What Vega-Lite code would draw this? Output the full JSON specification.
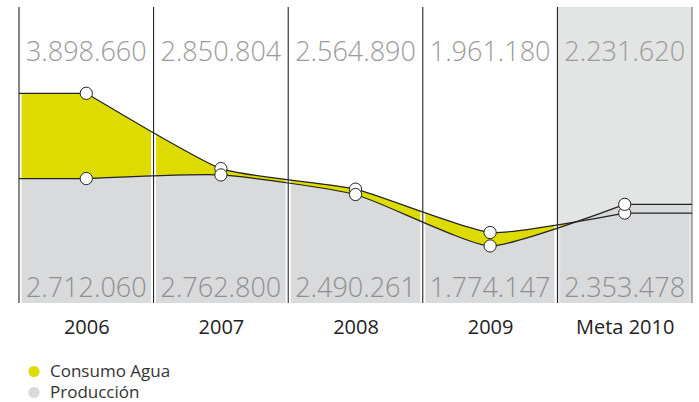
{
  "$schema": "https://vega.github.io/schema/vega-lite/v6.json",
  "width": 673,
  "height": 296,
  "autosize": {"type": "none"},
  "padding": {"left": 19, "top": 7, "right": 7, "bottom": 99},
  "background": "white",
  "config": {
    "view": {"stroke": null},
    "locale": {"number": {"decimal": ",", "thousands": ".", "grouping": [3], "currency": ["", " €"]}}
  },
  "data": {"values": [
    {"anio": 2006, "serie": "Consumo Agua", "valor": 3898660},
    {"anio": 2007, "serie": "Consumo Agua", "valor": 2850804},
    {"anio": 2008, "serie": "Consumo Agua", "valor": 2564890},
    {"anio": 2009, "serie": "Consumo Agua", "valor": 1961180},
    {"anio": 2010, "serie": "Consumo Agua", "valor": 2231620},
    {"anio": 2006, "serie": "Producción", "valor": 2712060},
    {"anio": 2007, "serie": "Producción", "valor": 2762800},
    {"anio": 2008, "serie": "Producción", "valor": 2490261},
    {"anio": 2009, "serie": "Producción", "valor": 1774147},
    {"anio": 2010, "serie": "Producción", "valor": 2353478}
  ]},
  "encoding": {
    "x": {"field": "anio", "type": "quantitative",
      "scale": {"domain": [2005.5, 2010.5], "nice": false, "zero": false},
      "axis": {"values": [2006, 2007, 2008, 2009, 2010],
        "labelExpr": "datum.value === 2010 ? 'Meta 2010' : '' + datum.value",
        "grid": false, "ticks": false, "tickSize": 0, "domain": false, "title": null,
        "labelFont": "Open Sans", "labelFontSize": 20, "labelColor": "#222222",
        "labelPadding": 30, "labelBaseline": "alphabetic", "labelFlush": false, "labelOverlap": false}},
    "y": {"field": "valor", "type": "quantitative",
      "scale": {"domain": [980000, 5100000], "nice": false, "zero": false}, "axis": null}
  },
  "layer": [
    {
      "transform": [{"filter": "datum.anio === 2010 && datum.serie === 'Consumo Agua'"}],
      "mark": {"type": "rect", "color": "#e3e4e4", "opacity": 1},
      "encoding": {"x": {"datum": 2009.5}, "x2": {"datum": 2010.5}, "y": {"datum": 5100000}, "y2": {"datum": 980000}}
    },
    {
      "transform": [{"filter": "datum.serie === 'Consumo Agua'"}],
      "mark": {"type": "area", "interpolate": "cardinal", "tension": 0.5, "opacity": 1},
      "encoding": {
        "y2": {"datum": 980000},
        "color": {"field": "serie", "type": "nominal",
          "scale": {"domain": ["Consumo Agua", "Producción"], "range": ["#dedb00", "#d9dadc"]},
          "legend": {"orient": "none", "legendX": 18.5, "legendY": 356, "direction": "vertical", "title": null,
            "symbolType": "circle", "symbolSize": 125, "symbolStrokeWidth": 0, "symbolOpacity": 1, "symbolOffset": -12,
            "labelFont": "Open Sans", "labelFontSize": 17, "labelColor": "#333333", "labelOffset": 7.5,
            "rowPadding": 3, "padding": 0}}
      }
    },
    {
      "transform": [{"filter": "datum.anio === 2006"}],
      "mark": {"type": "rect", "opacity": 1, "x2Offset": 1},
      "encoding": {
        "x": {"datum": 2005.5}, "x2": {"field": "anio"}, "y2": {"datum": 980000},
        "color": {"field": "serie", "type": "nominal",
          "scale": {"domain": ["Consumo Agua", "Producción"], "range": ["#dedb00", "#d9dadc"]},
          "legend": {"orient": "none", "legendX": 18.5, "legendY": 356, "direction": "vertical", "title": null,
            "symbolType": "circle", "symbolSize": 125, "symbolStrokeWidth": 0, "symbolOpacity": 1, "symbolOffset": -12,
            "labelFont": "Open Sans", "labelFontSize": 17, "labelColor": "#333333", "labelOffset": 7.5,
            "rowPadding": 3, "padding": 0}}
      }
    },
    {
      "transform": [{"filter": "datum.anio === 2010"}],
      "mark": {"type": "rect", "opacity": 1, "xOffset": -1},
      "encoding": {
        "x2": {"datum": 2010.5}, "y2": {"datum": 980000},
        "color": {"field": "serie", "type": "nominal",
          "scale": {"domain": ["Consumo Agua", "Producción"], "range": ["#dedb00", "#d9dadc"]},
          "legend": {"orient": "none", "legendX": 18.5, "legendY": 356, "direction": "vertical", "title": null,
            "symbolType": "circle", "symbolSize": 125, "symbolStrokeWidth": 0, "symbolOpacity": 1, "symbolOffset": -12,
            "labelFont": "Open Sans", "labelFontSize": 17, "labelColor": "#333333", "labelOffset": 7.5,
            "rowPadding": 3, "padding": 0}}
      }
    },
    {
      "transform": [{"filter": "datum.serie === 'Producción'"}],
      "mark": {"type": "area", "interpolate": "cardinal", "tension": 0.5, "opacity": 1},
      "encoding": {
        "y2": {"datum": 980000},
        "color": {"field": "serie", "type": "nominal",
          "scale": {"domain": ["Consumo Agua", "Producción"], "range": ["#dedb00", "#d9dadc"]},
          "legend": {"orient": "none", "legendX": 18.5, "legendY": 356, "direction": "vertical", "title": null,
            "symbolType": "circle", "symbolSize": 125, "symbolStrokeWidth": 0, "symbolOpacity": 1, "symbolOffset": -12,
            "labelFont": "Open Sans", "labelFontSize": 17, "labelColor": "#333333", "labelOffset": 7.5,
            "rowPadding": 3, "padding": 0}}
      }
    },
    {
      "transform": [{"filter": "datum.anio === 2010 && datum.serie === 'Consumo Agua'"}],
      "encoding": {"y": {"datum": 5100000}, "y2": {"datum": 980000}},
      "layer": [
        {"mark": {"type": "rule", "color": "white", "strokeWidth": 5}, "encoding": {"x": {"datum": 2005.5}}},
        {"mark": {"type": "rule", "color": "white", "strokeWidth": 5}, "encoding": {"x": {"datum": 2006.5}}},
        {"mark": {"type": "rule", "color": "white", "strokeWidth": 5}, "encoding": {"x": {"datum": 2007.5}}},
        {"mark": {"type": "rule", "color": "white", "strokeWidth": 5}, "encoding": {"x": {"datum": 2008.5}}},
        {"mark": {"type": "rule", "color": "white", "strokeWidth": 3, "xOffset": -1.5}, "encoding": {"x": {"datum": 2009.5}}},
        {"mark": {"type": "rule", "color": "#e3e4e4", "strokeWidth": 3, "xOffset": 1.5}, "encoding": {"x": {"datum": 2009.5}}},
        {"mark": {"type": "rule", "color": "#e3e4e4", "strokeWidth": 3, "xOffset": -1.5}, "encoding": {"x": {"datum": 2010.5}}},
        {"mark": {"type": "rule", "color": "#111111", "strokeWidth": 1}, "encoding": {"x": {"datum": 2005.5}}},
        {"mark": {"type": "rule", "color": "#111111", "strokeWidth": 1}, "encoding": {"x": {"datum": 2006.5}}},
        {"mark": {"type": "rule", "color": "#111111", "strokeWidth": 1}, "encoding": {"x": {"datum": 2007.5}}},
        {"mark": {"type": "rule", "color": "#111111", "strokeWidth": 1}, "encoding": {"x": {"datum": 2008.5}}},
        {"mark": {"type": "rule", "color": "#111111", "strokeWidth": 1}, "encoding": {"x": {"datum": 2009.5}}},
        {"mark": {"type": "rule", "color": "#666666", "strokeWidth": 1}, "encoding": {"x": {"datum": 2010.5}}}
      ]
    },
    {
      "mark": {"type": "line", "interpolate": "cardinal", "tension": 0.5, "color": "#222222", "strokeWidth": 1.2},
      "encoding": {"detail": {"field": "serie", "type": "nominal"}}
    },
    {
      "transform": [{"filter": "datum.anio === 2006"}],
      "mark": {"type": "rule", "color": "#222222", "strokeWidth": 1.2},
      "encoding": {"x": {"datum": 2005.5}, "x2": {"field": "anio"}}
    },
    {
      "transform": [{"filter": "datum.anio === 2010"}],
      "mark": {"type": "rule", "color": "#222222", "strokeWidth": 1.2},
      "encoding": {"x2": {"datum": 2010.5}}
    },
    {
      "mark": {"type": "circle", "fill": "white", "stroke": "#222222", "strokeWidth": 1, "size": 150, "opacity": 1}
    },
    {
      "transform": [{"filter": "datum.serie === 'Consumo Agua'"}],
      "mark": {"type": "text", "font": "Open Sans", "fontWeight": 300, "fontSize": 27, "color": "#9a9a9a", "baseline": "alphabetic", "align": "center"},
      "encoding": {"y": {"datum": 4350000}, "text": {"field": "valor", "type": "quantitative", "format": ",d"}}
    },
    {
      "transform": [{"filter": "datum.serie === 'Producción'"}],
      "mark": {"type": "text", "font": "Open Sans", "fontWeight": 300, "fontSize": 27, "color": "#8f8f8f", "baseline": "alphabetic", "align": "center"},
      "encoding": {"y": {"datum": 1065000}, "text": {"field": "valor", "type": "quantitative", "format": ",d"}}
    }
  ]
}
